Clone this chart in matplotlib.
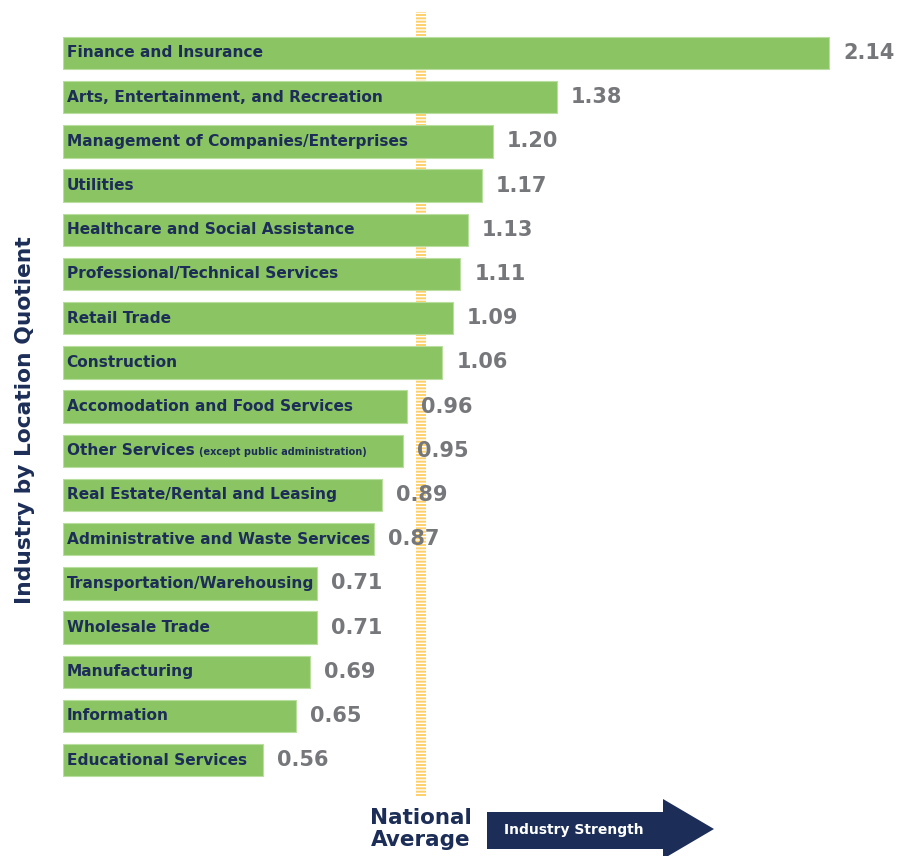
import matplotlib.pyplot as plt
from matplotlib.patches import Rectangle, Polygon

industries = [
    "Finance and Insurance",
    "Arts, Entertainment, and Recreation",
    "Management of Companies/Enterprises",
    "Utilities",
    "Healthcare and Social Assistance",
    "Professional/Technical Services",
    "Retail Trade",
    "Construction",
    "Accomodation and Food Services",
    "Other Services",
    "Real Estate/Rental and Leasing",
    "Administrative and Waste Services",
    "Transportation/Warehousing",
    "Wholesale Trade",
    "Manufacturing",
    "Information",
    "Educational Services",
]
notes = {"Other Services": "(except public administration)"}
location_quotient = [2.14, 1.38, 1.20, 1.17, 1.13, 1.11, 1.09, 1.06, 0.96,
                     0.95, 0.89, 0.87, 0.71, 0.71, 0.69, 0.65, 0.56]
national_average = 1.0

green = "#8bc563"
navy = "#1c2e57"
gray = "#76777a"
stripe = "#fcd06a"

plt.rcParams["hatch.linewidth"] = 1.4

W, H = 903, 856
fig = plt.figure(figsize=(W / 100, H / 100), dpi=100)
# axes laid out in pixels: x=0 at 63px, 358px per unit; bar pitch 44.2px
ax = fig.add_axes([63 / W, 56 / H, 841 / W, 800 / H])
ax.set_xlim(0, 841 / 358)
ax.set_ylim((800 - 53) / 44.2, -53 / 44.2)
ax.axis("off")

ypos = list(range(len(industries)))
ax.barh(ypos, location_quotient, height=0.73, color=green,
        edgecolor="#b9dea0", linewidth=0.8, zorder=3)

# striped national-average marker behind the bars
top, bottom = (12 - 53) / 44.2, (797 - 53) / 44.2
ax.add_patch(Rectangle((national_average - 0.015, top), 0.03, bottom - top,
                       facecolor="none", edgecolor=stripe, linewidth=0,
                       hatch="-----", zorder=1))

name_texts = []
for y, name, v in zip(ypos, industries, location_quotient):
    t = ax.text(0.01, y, name, ha="left", va="center", fontsize=11.1,
                fontweight="bold", color=navy, zorder=4)
    name_texts.append(t)
    ax.annotate(f"{v:.2f}", (v, y), xytext=(10, 0), textcoords="offset points",
                ha="left", va="center", fontsize=15, fontweight="bold",
                color=gray, zorder=5)

# small note right after its label
fig.canvas.draw()
for t, name in zip(name_texts, industries):
    if name in notes:
        bb = t.get_window_extent()
        fig.text((bb.x1 + 5) / W, (bb.y0 + bb.y1) / 2 / H - 1 / H, notes[name],
                 ha="left", va="center", fontsize=7, fontweight="bold",
                 color=navy, zorder=6)

fig.text(25 / W, 1 - 420 / H, "Industry by Location Quotient", rotation=90,
         ha="center", va="center", fontsize=15.7, fontweight="bold", color=navy)

fig.text(421 / W, 1 - 829 / H, "National\nAverage", ha="center", va="center",
         fontsize=15.5, fontweight="bold", color=navy, linespacing=1.15)

# "Industry Strength" arrow, in inches
pts = [(487, 812), (663, 812), (663, 799), (714, 829), (663, 859),
       (663, 849), (487, 849)]
fig.patches.append(Polygon([(x / 100, (H - y) / 100) for x, y in pts],
                           closed=True, facecolor=navy, edgecolor="none",
                           transform=fig.dpi_scale_trans))
fig.text(574 / W, 1 - 830 / H, "Industry Strength", ha="center", va="center",
         fontsize=10, fontweight="bold", color="white")

fig.savefig("out.png", dpi=100)
